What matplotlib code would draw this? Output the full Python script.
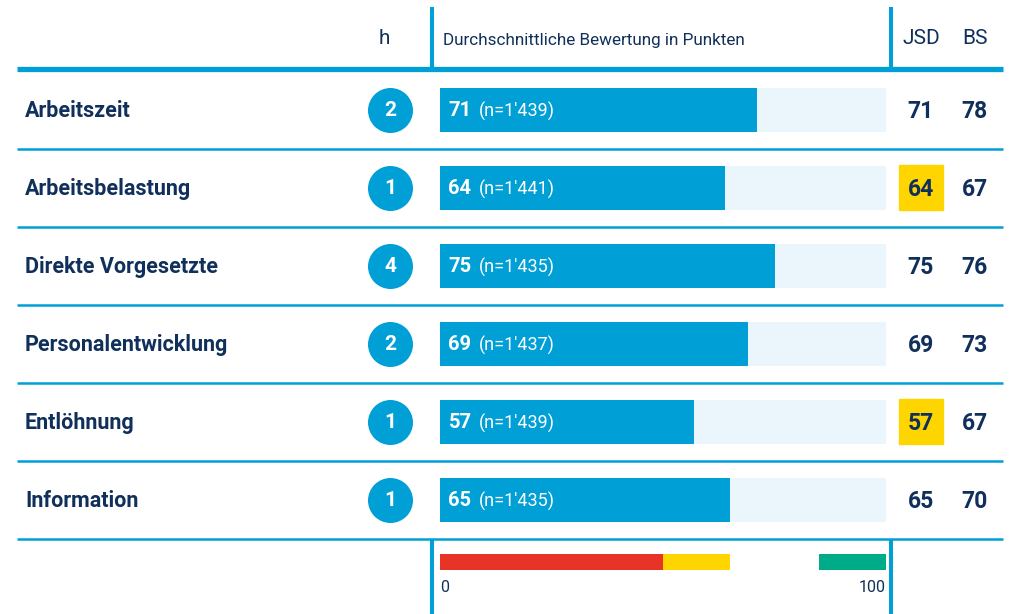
import matplotlib
matplotlib.use("Agg")
import matplotlib.pyplot as plt
from matplotlib.patches import Rectangle

# data
topics = ["Arbeitszeit", "Arbeitsbelastung", "Direkte Vorgesetzte",
          "Personalentwicklung", "Entlöhnung", "Information"]
h_count = [2, 1, 4, 2, 1, 1]
scores = [71, 64, 75, 69, 57, 65]
n_resp = ["1'439", "1'441", "1'435", "1'437", "1'439", "1'435"]
jsd = [71, 64, 75, 69, 57, 65]
bs = [78, 67, 76, 73, 67, 70]
# scale bands: red, yellow, gap, green
band_start = [0, 50, 85]
band_end = [50, 65, 100]
band_col = ["#E83426", "#FFD500", "#00AB88"]

BLUE = "#00A0D6"
LIGHT = "#EBF5FC"
NAVY = "#10305B"
W, H = 1011, 614

plt.rcParams["font.family"] = ["Roboto", "DejaVu Sans"]

fig = plt.figure(figsize=(W / 100, H / 100), dpi=100)
ax = fig.add_axes([0, 0, 1, 1])
ax.set_xlim(0, W)
ax.set_ylim(H, 0)
ax.axis("off")

row0, pitch = 109.5, 78
top_line, bar_left, bar_right = 69, 440, 886
first_rule = 149
dy = 1.5  # text baseline nudge


def fx(px):
    return px / W


def fy(py):
    return 1 - py / H


# bar axes (0..100 scale), rows 0..5
bax = fig.add_axes([fx(bar_left), fy(row0 - pitch / 2 + 6 * pitch),
                    fx(bar_right) - fx(bar_left), (6 * pitch) / H])
bax.set_xlim(0, 100)
bax.set_ylim(5.5, -0.5)
bax.axis("off")
rows = list(range(len(topics)))
bax.barh(rows, [100] * len(rows), height=44 / pitch, color=LIGHT)
bax.barh(rows, scores, height=44 / pitch, color=BLUE)
for i in rows:
    t = bax.text(1.9, i + dy / pitch, str(scores[i]), color="white",
                 fontsize=14.5, fontweight="bold", va="center", ha="left")
    bax.annotate(f"(n={n_resp[i]})", xy=(1, 0.5), xycoords=t,
                 xytext=(5, 0), textcoords="offset points",
                 color="white", fontsize=13, fontweight="normal",
                 va="center", ha="left")

# legend scale axes
lax = fig.add_axes([fx(bar_left), fy(570), fx(bar_right) - fx(bar_left), 16 / H])
lax.set_xlim(0, 100)
lax.set_ylim(-0.5, 0.5)
lax.axis("off")
lax.barh([0] * 3, [e - s for s, e in zip(band_start, band_end)],
         left=band_start, height=1.0, color=band_col)
ax.text(bar_left, 587, "0", color=NAVY, fontsize=11.5, ha="left", va="center")
ax.text(bar_right, 587, "100", color=NAVY, fontsize=11.5, ha="right", va="center")

# header
ax.text(384, 39, "h", color=NAVY, fontsize=15, ha="center", va="center")
ax.text(443, 40, "Durchschnittliche Bewertung in Punkten", color=NAVY,
        fontsize=12.3, ha="left", va="center")
ax.text(921, 39, "JSD", color=NAVY, fontsize=15, ha="center", va="center")
ax.text(975, 39, "BS", color=NAVY, fontsize=15, ha="center", va="center")

# grid lines
ax.plot([17, 1003], [top_line, top_line], color=BLUE, lw=3.8, solid_capstyle="butt")
for i in rows:
    yl = first_rule + i * pitch
    ax.plot([17, 1003], [yl, yl], color=BLUE, lw=1.8, solid_capstyle="butt")
bottom_rule = first_rule + 5 * pitch
for xv in (432, 891):
    ax.plot([xv, xv], [7, top_line], color=BLUE, lw=2.9, solid_capstyle="butt")
    ax.plot([xv, xv], [bottom_rule, H], color=BLUE, lw=2.9,
            solid_capstyle="butt")

# rows
for i in rows:
    yc = row0 + i * pitch
    ax.text(25, yc + dy, topics[i], color=NAVY, fontsize=15.5, fontweight="bold",
            ha="left", va="center")
    ax.scatter([390], [yc], s=1050, color=BLUE, zorder=3, linewidths=0)
    ax.text(390, yc + dy, str(h_count[i]), color="white", fontsize=15,
            fontweight="bold", ha="center", va="center", zorder=4)
    if band_start[1] <= jsd[i] < band_end[1]:
        ax.add_patch(Rectangle((899, yc - 22.5), 44, 45, color=band_col[1],
                               zorder=1))
    ax.text(921, yc + dy, str(jsd[i]), color=NAVY, fontsize=16.5,
            fontweight="bold", ha="center", va="center", zorder=2)
    ax.text(975, yc + dy, str(bs[i]), color=NAVY, fontsize=16.5,
            fontweight="bold", ha="center", va="center", zorder=2)

fig.savefig("out.png", dpi=100)
